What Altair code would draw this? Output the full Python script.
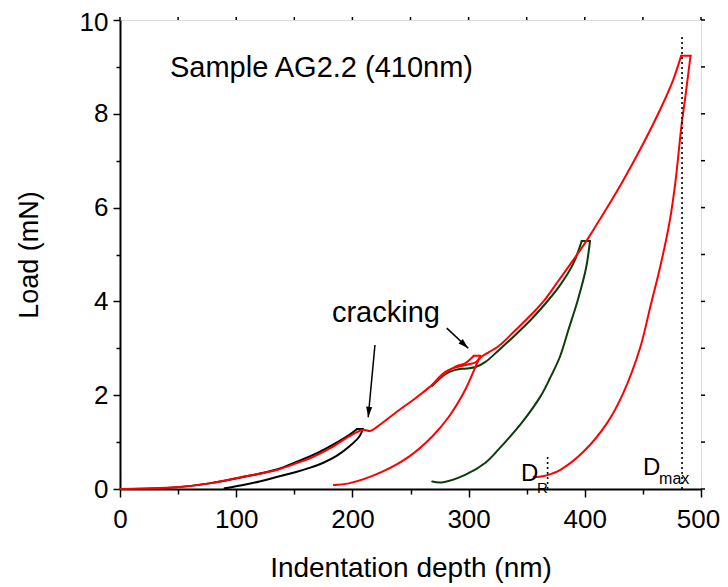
import math
import altair as alt
import pandas as pd

# ---------------- data ----------------
black_x = [0, 30, 50, 77, 105, 134, 154, 170, 183, 197, 204, 209,
           206, 197, 186, 175, 163, 150, 134, 120, 105, 90]
black_y = [0, 0.01, 0.04, 0.12, 0.25, 0.41, 0.60, 0.77, 0.94, 1.15, 1.28, 1.28,
           1.12, 0.90, 0.70, 0.56, 0.45, 0.35, 0.25, 0.16, 0.08, 0.015]

red2_x = [0, 20, 48.6, 77, 105.7, 134, 154, 163, 183, 197, 208.7, 215.8, 221.5,
          240, 254, 268.7, 280, 288.7, 297, 304.5, 310,
          306, 297, 283, 268.7, 248.7, 225.8, 197, 184]
red2_y = [0, 0.01, 0.035, 0.12, 0.26, 0.40, 0.57, 0.65, 0.90, 1.12, 1.26, 1.24, 1.33,
          1.68, 1.93, 2.22, 2.47, 2.61, 2.68, 2.84, 2.84,
          2.61, 2.11, 1.54, 1.12, 0.69, 0.37, 0.12, 0.085]

green_x = [268.7, 280, 288.7, 298, 306, 314.5, 326, 340, 354, 366, 378, 390, 397.4, 404.5,
           401, 394, 386, 378.6, 370, 362, 346, 326, 314.5, 297, 277, 268.7]
green_y = [2.20, 2.45, 2.54, 2.57, 2.60, 2.71, 2.96, 3.28, 3.62, 3.95, 4.32, 4.80, 5.29, 5.29,
           4.70, 4.03, 3.40, 2.82, 2.36, 1.98, 1.42, 0.85, 0.56, 0.30, 0.14, 0.16]

red4_x = [268.7, 280, 290, 300, 306, 311, 326, 340, 354, 366, 377, 390, 403, 414.5,
          431.7, 450, 466, 476, 483, 491,
          487, 483, 478, 473, 465, 457, 447.5, 433, 419, 399, 379, 367, 361, 356]
red4_y = [2.22, 2.50, 2.60, 2.66, 2.70, 2.82, 3.05, 3.38, 3.72, 4.05, 4.43, 4.88, 5.35, 5.81,
          6.52, 7.35, 8.15, 8.72, 9.24, 9.24,
          8.45, 7.70, 6.55, 5.70, 4.75, 3.95, 3.00, 2.04, 1.40, 0.80, 0.41, 0.29, 0.26, 0.26]

# dotted marker lines (D_R, D_max)
vline_x = [368, 483.7]
vline_top = [0.72, 9.64]

# arrows: start -> tip
arrow_x1 = [219.4, 281.2]
arrow_y1 = [3.07, 3.43]
arrow_x2 = [213.6, 299.7]
arrow_y2 = [1.53, 3.00]

# text annotations
txt_text = ["Sample AG2.2 (410nm)", "cracking", "D", "R", "D", "max"]
txt_x = [43, 182.4, 345.1, 358.9, 450.1, 463.9]
txt_y = [8.78, 3.56, 0.17, -0.085, 0.30, 0.107]
txt_size = [29, 29, 24, 15, 24, 16]

x_ticks = list(range(0, 501, 50))
y_ticks = list(range(0, 11, 1))

# ---------------- layout ----------------
W, H = 581, 469
FONT = "Liberation Sans"
sx, sy = W / 500.0, H / 10.0

def cycle(name, xs, ys):
    """Split one load/unload cycle into loading, plateau and unloading pieces."""
    ip = ys.index(max(ys))  # first point of the plateau
    parts = [("load", 0, ip + 1), ("top", ip, ip + 2), ("unload", ip + 1, len(xs))]
    frames = []
    for pname, a, b in parts:
        frames.append(pd.DataFrame({
            "seg": name, "part": f"{name}_{pname}",
            "x": xs[a:b], "y": ys[a:b], "i": range(b - a),
        }))
    return pd.concat(frames)

lines = pd.concat([
    cycle("green", green_x, green_y),
    cycle("black", black_x, black_y),
    cycle("red2", red2_x, red2_y),
    cycle("red4", red4_x, red4_y),
])

xscale = alt.Scale(domain=[0, 500], nice=False, zero=False)
yscale = alt.Scale(domain=[0, 10], nice=False, zero=False)

xaxis = alt.Axis(
    values=x_ticks,
    labelExpr="datum.value % 100 == 0 ? datum.label : ''",
    tickSize={"condition": {"test": "datum.value % 100 == 0", "value": 8}, "value": 5},
    labelOffset={"condition": {"test": "datum.value == 500", "value": -3}, "value": 0},
    tickWidth=1.5, tickColor="black", domainColor="black", domainWidth=2,
    labelFont=FONT, labelFontSize=26, labelColor="black", labelPadding=9,
    labelFlush=False, grid=False,
    title="Indentation depth (nm)", titleFont=FONT, titleFontSize=28,
    titleFontWeight="normal", titleColor="black",
    titleBaseline="alphabetic", titleY=87,
)
yaxis = alt.Axis(
    values=y_ticks,
    labelExpr="datum.value % 2 == 0 ? datum.label : ''",
    tickSize={"condition": {"test": "datum.value % 2 == 0", "value": 7}, "value": 4},
    labelOffset={"condition": {"test": "datum.value == 10", "value": 2}, "value": 0},
    tickWidth=1.5, tickColor="black", domainColor="black", domainWidth=2,
    labelFont=FONT, labelFontSize=26, labelColor="black", labelPadding=5,
    labelFlush=False, grid=False,
    title="Load (mN)", titleFont=FONT, titleFontSize=27,
    titleFontWeight="normal", titleColor="black",
    titleBaseline="alphabetic", titleX=-83, titleY=H / 2, titleAngle=270,
)

X = alt.X("x:Q", scale=xscale, axis=xaxis)
Y = alt.Y("y:Q", scale=yscale, axis=yaxis)

colors = {"green": "#0b3d0b", "black": "#000000", "red2": "#ff0000", "red4": "#ff0000"}

layers = []
for name in ["green", "black", "red2", "red4"]:
    layers.append(
        alt.Chart(lines).transform_filter(alt.datum.seg == name)
        .mark_line(strokeWidth=2, color=colors[name], clip=False,
                   interpolate="catmull-rom", strokeJoin="round", strokeCap="round")
        .encode(x=X, y=Y, order="i:Q", detail="part:N")
    )

# dotted verticals
vdf = pd.DataFrame({"x": vline_x, "y": [0] * len(vline_x), "y2": vline_top})
layers.append(
    alt.Chart(vdf).mark_rule(color="black", strokeWidth=1.6, strokeDash=[2, 3])
    .encode(x=X, y=Y, y2="y2:Q")
)

# arrows
angs = []
for a, b, c, d in zip(arrow_x1, arrow_y1, arrow_x2, arrow_y2):
    dx = (c - a) * sx
    dy = -(d - b) * sy
    angs.append(math.degrees(math.atan2(dx, -dy)) % 360)
adf = pd.DataFrame({"x": arrow_x1, "y": arrow_y1, "x2": arrow_x2, "y2": arrow_y2, "ang": angs})
layers.append(
    alt.Chart(adf).mark_rule(color="black", strokeWidth=1.5)
    .encode(x=X, y=Y, x2="x2:Q", y2="y2:Q")
)
layers.append(
    alt.Chart(adf).mark_point(shape="M0,0L0.5,1.7L-0.5,1.7Z", filled=True, color="black",
                              opacity=1, size=150, strokeWidth=0)
    .encode(x=alt.X("x2:Q", scale=xscale, axis=xaxis), y=alt.Y("y2:Q", scale=yscale, axis=yaxis),
            angle=alt.Angle("ang:Q", scale=None))
)

# top and right mirror ticks
tdf = pd.DataFrame({"x": x_ticks})
layers.append(
    alt.Chart(tdf).mark_rule(color="black", strokeWidth=1.5)
    .encode(x=X, y=alt.value(0), y2=alt.value(-3))
)
rdf = pd.DataFrame({"y": y_ticks})
layers.append(
    alt.Chart(rdf).mark_rule(color="black", strokeWidth=1.5)
    .encode(y=Y, x=alt.value(W), x2=alt.value(W + 4))
)

# texts
tx = pd.DataFrame({"x": txt_x, "y": txt_y, "t": txt_text, "fs": txt_size})
layers.append(
    alt.Chart(tx).mark_text(align="left", baseline="alphabetic", font=FONT, color="black")
    .encode(x=X, y=Y, text="t:N", size=alt.Size("fs:Q", scale=None, legend=None))
)

chart = alt.layer(*layers).properties(
    width=W, height=H,
    autosize=alt.AutoSizeParams(type="none"),
    padding={"left": 112, "top": 12, "right": 19, "bottom": 96},
).configure_view(stroke="black", strokeWidth=2).configure(background="white")

chart.save("out.html", embed_options={"renderer": "svg", "actions": False})
